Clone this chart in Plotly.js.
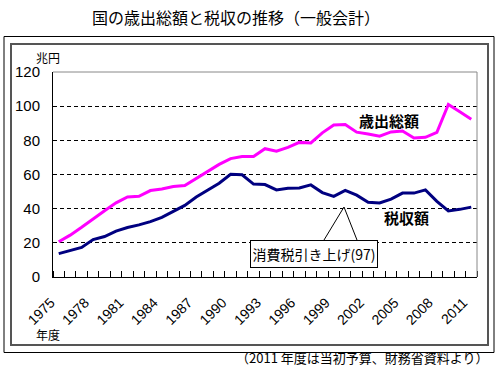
<!DOCTYPE html>
<html>
<head>
<meta charset="utf-8">
<script src="https://cdn.plot.ly/plotly-3.0.1.min.js"></script>
<style>html,body{margin:0;padding:0;background:#fff;}#chart{width:500px;height:377px;}</style>
</head>
<body>
<div id="chart"></div>
<script>
// ---- data ----
const years = [1975,1976,1977,1978,1979,1980,1981,1982,1983,1984,1985,1986,1987,1988,1989,1990,1991,1992,1993,1994,1995,1996,1997,1998,1999,2000,2001,2002,2003,2004,2005,2006,2007,2008,2009,2010,2011];
const expenditure = [20.6,24.5,29.1,34.1,38.8,43.4,46.9,47.2,50.6,51.5,53.0,53.6,57.7,61.5,65.9,69.3,70.5,70.5,75.1,73.6,75.9,78.8,78.5,84.4,89.0,89.3,84.8,83.7,82.4,84.9,85.5,81.4,81.8,84.7,101.0,96.7,92.4];
const taxRevenue = [13.7,15.7,17.3,21.9,23.7,26.9,29.0,30.5,32.4,34.9,38.2,41.9,46.8,50.8,54.9,60.1,59.8,54.4,54.1,51.0,51.9,52.1,53.9,49.4,47.2,50.7,47.9,43.8,43.3,45.6,49.1,49.1,51.0,44.3,38.7,39.6,40.9];
const xTickYears = [1975,1978,1981,1984,1987,1990,1993,1996,1999,2002,2005,2008,2011];
const xTickLabels = xTickYears.map(String);
const yTickVals = [0,20,40,60,80,100,120];
const yTickLabels = yTickVals.map(String);
const seriesNames = ['歳出総額','税収額'];

// ---- layout geometry (pixels) ----
const W = 500, H = 377;
const M = {l: 53, r: 23, t: 72, b: 100};
const PW = W - M.l - M.r, PH = H - M.t - M.b;
const px = x => (x - M.l) / PW;          // pixel -> paper x
const py = y => (H - M.b - y) / PH;      // pixel -> paper y

const FONT = '"Liberation Sans", Arial, "Noto Sans CJK JP", sans-serif';
const JFONT = '"Noto Sans CJK JP", "Liberation Sans", sans-serif';

const traces = [
  {x: years, y: expenditure, name: seriesNames[0], type: 'scatter', mode: 'lines',
   line: {color: '#FF00FF', width: 3}},
  {x: years, y: taxRevenue, name: seriesNames[1], type: 'scatter', mode: 'lines',
   line: {color: '#000080', width: 3}}
];

const layout = {
  width: W, height: H,
  margin: M,
  paper_bgcolor: '#fff', plot_bgcolor: '#fff',
  showlegend: false,
  font: {family: FONT, color: '#000'},
  title: {text: '国の歳出総額と税収の推移（一般会計）', font: {family: JFONT, size: 16, color: '#000'},
          x: 236 / W, xanchor: 'center', y: 1 - 18 / H, yanchor: 'middle', xref: 'container', yref: 'container'},
  xaxis: {
    type: 'linear', range: [1974.5, 2011.5],
    tickmode: 'array', tickvals: xTickYears, ticktext: xTickLabels,
    tickangle: -45, ticks: '', showgrid: false, zeroline: false,
    showline: true, linecolor: '#000', linewidth: 1,
    tickfont: {family: FONT, size: 14, color: '#000'},
    ticklabelstandoff: 11, ticklabelshift: -8,
    minor: {ticks: 'inside', tickmode: 'linear', tick0: 1974.5, dtick: 1, ticklen: 6, tickcolor: '#000', tickwidth: 1, showgrid: false},
    fixedrange: true
  },
  yaxis: {
    range: [0, 120], tickmode: 'array', tickvals: yTickVals, ticktext: yTickLabels,
    ticks: '', showgrid: true, gridcolor: '#000', gridwidth: 1, griddash: '4px,3px',
    zeroline: false, showline: true, linecolor: '#000', linewidth: 1,
    tickfont: {family: FONT, size: 15, color: '#000'},
    ticklabelstandoff: 9,
    fixedrange: true
  },
  shapes: [
    // outer frame
    {type: 'rect', xref: 'paper', yref: 'paper', x0: px(4), x1: px(494), y0: py(352.5), y1: py(36.5),
     line: {color: '#000', width: 1}, layer: 'below'},
    // inner frame
    {type: 'rect', xref: 'paper', yref: 'paper', x0: px(11), x1: px(488), y0: py(345), y1: py(44),
     line: {color: '#555', width: 2}, layer: 'below'},
    // plot area border (top, right)
    {type: 'path', xref: 'paper', yref: 'paper', path: `M 0,1 L 1,1 L 1,0`,
     line: {color: '#888', width: 1}, layer: 'above'},
    // callout pointer
    {type: 'path', xref: 'paper', yref: 'paper',
     path: `M ${px(324)},${py(240)} L ${px(344)},${py(207)} L ${px(357)},${py(240)}`,
     fillcolor: '#fff', line: {color: '#000', width: 1}, layer: 'above'}
  ],
  annotations: [
    {text: '兆円', xref: 'paper', yref: 'paper', x: px(48), y: py(58), showarrow: false,
     xanchor: 'center', yanchor: 'middle', font: {family: JFONT, size: 12, color: '#000'}},
    {text: '年度', xref: 'paper', yref: 'paper', x: px(48), y: py(334), showarrow: false,
     xanchor: 'center', yanchor: 'middle', font: {family: JFONT, size: 12, color: '#000'}},
    {text: '<b>' + seriesNames[0] + '</b>', xref: 'paper', yref: 'paper', x: px(389), y: py(120), showarrow: false,
     xanchor: 'center', yanchor: 'middle', font: {family: JFONT, size: 15, color: '#000'}},
    {text: '<b>' + seriesNames[1] + '</b>', xref: 'paper', yref: 'paper', x: px(406), y: py(217), showarrow: false,
     xanchor: 'center', yanchor: 'middle', font: {family: JFONT, size: 15, color: '#000'}},
    {text: '消費税引き上げ(97)', xref: 'paper', yref: 'paper', x: px(314), y: py(253.5), showarrow: false,
     xanchor: 'center', yanchor: 'middle', width: 122, height: 22, borderpad: 2,
     bgcolor: '#fff', bordercolor: '#000', borderwidth: 1,
     font: {family: JFONT, size: 14, color: '#000'}},
    {text: '（2011 年度は当初予算、財務省資料より）', xref: 'paper', yref: 'paper', x: px(362), y: py(357), showarrow: false,
     xanchor: 'center', yanchor: 'middle', font: {family: JFONT, size: 13, color: '#000'}}
  ]
};

Plotly.newPlot('chart', traces, layout, {displayModeBar: false, staticPlot: true});
</script>
</body>
</html>
